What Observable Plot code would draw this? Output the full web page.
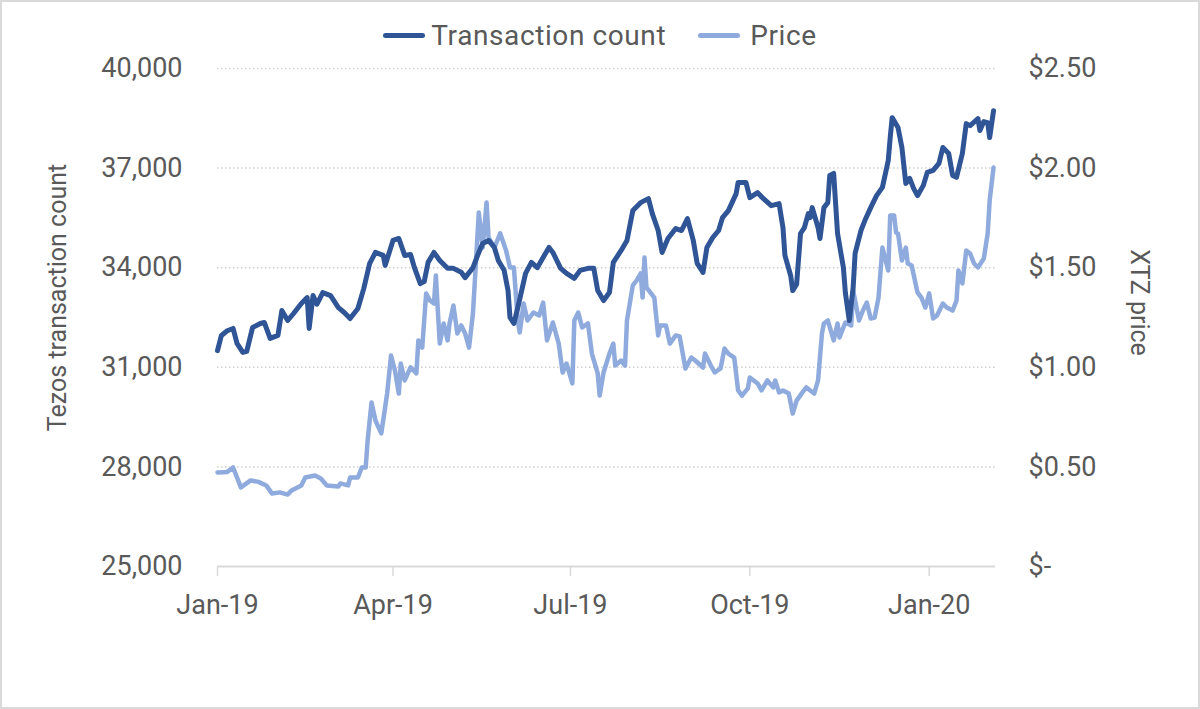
<!DOCTYPE html>
<html><head><meta charset="utf-8">
<script src="https://cdn.jsdelivr.net/npm/d3@7"></script>
<script src="https://cdn.jsdelivr.net/npm/@observablehq/plot@0.6"></script>
<style>
html,body{margin:0;padding:0;background:#fff;}
#wrap{position:relative;width:1200px;height:709px;overflow:hidden;font-family:Roboto,sans-serif;color:#595959;background:#fff;}
#frame{position:absolute;left:0;top:0;width:1200px;height:709px;box-sizing:border-box;border:2px solid #d9d9d9;pointer-events:none;}
#legend{position:absolute;left:0;top:0;width:1200px;height:70px;display:flex;align-items:center;justify-content:center;font-size:28px;letter-spacing:0.6px;padding-left:0;box-sizing:border-box;z-index:2;}
.item{display:flex;align-items:center;}
.sw{width:42px;height:5px;border-radius:3px;margin-right:6px;}
.item + .item{margin-left:32px;}
.item.p .sw{margin-right:10px;}
svg{display:block;}
</style></head>
<body>
<div id="wrap"><div id="chart"></div><div id="legend"></div><div id="frame"></div></div>
<script>
// Days since 2019-01-01 and Tezos transaction count
const countDays = [0,2,5,8,10,13,15,18,22,24,27,31,33,36,39,43,46,47,49,51,54,58,62,65,68,72,75,78,81,85,86,90,93,96,99,101,104,106,108,111,114,118,121,125,127,131,134,136,139,142,144,147,149,150,152,154,158,161,164,167,170,172,176,179,183,186,190,193,195,198,201,203,207,210,213,217,221,223,226,228,231,235,238,241,244,246,249,251,254,257,259,262,266,267,271,273,277,280,284,288,290,291,294,295,297,299,301,303,304,305,308,309,311,313,314,316,318,321,322,324,326,327,330,332,335,338,341,344,345,346,349,351,353,355,357,359,362,364,367,370,372,375,377,379,382,384,386,390,391,393,395,396,398];
const countValues = [31500,31960,32100,32170,31720,31450,31480,32200,32320,32350,31870,31960,32710,32410,32620,32920,33100,32170,33160,32900,33250,33160,32800,32650,32470,32770,33370,34120,34460,34370,34070,34820,34880,34370,34400,34000,33520,33580,34160,34460,34220,33980,33980,33860,33700,34000,34460,34730,34820,34610,34220,33920,33310,32500,32320,32800,33830,34160,34000,34310,34610,34460,33980,33830,33680,33920,33980,33980,33310,33010,33250,34160,34520,34820,35720,35960,36080,35630,35120,34460,34880,35180,35120,35480,34820,34130,33860,34610,34910,35120,35510,35720,36230,36570,36570,36110,36260,36080,35870,35930,35210,34370,33750,33310,33500,35030,35210,35630,35510,35810,35210,34880,35810,35960,36780,36840,35030,34000,33250,32410,33400,34430,35120,35420,35810,36170,36420,37230,37920,38520,38220,37620,36540,36690,36390,36170,36480,36870,36930,37140,37620,37440,36780,36720,37440,38340,38280,38490,38130,38400,38370,37920,38730];

// Days since 2019-01-01 and XTZ price (USD)
const priceDays = [0,5,8,12,17,21,25,28,32,36,38,43,45,50,53,56,62,63,67,68,72,74,76,77,79,81,84,87,89,91,93,94,96,99,102,103,105,107,109,111,112,113,114,116,118,119,121,123,125,127,129,131,132,134,136,138,139,142,145,148,150,152,154,155,157,159,162,165,167,169,172,175,177,179,182,183,185,187,190,192,195,196,198,201,203,204,207,209,210,213,215,217,218,219,220,224,226,227,230,232,235,237,240,243,245,249,250,253,255,258,260,262,265,267,269,272,273,277,279,282,285,286,288,290,293,295,297,300,302,306,308,310,311,313,316,318,319,322,325,326,329,331,333,335,337,339,341,344,345,347,348,349,351,353,354,356,359,361,363,365,367,369,372,374,377,379,380,382,384,386,388,390,393,395,396,398];
const priceValues = [0.472,0.475,0.497,0.397,0.432,0.425,0.407,0.366,0.372,0.361,0.382,0.407,0.447,0.457,0.442,0.407,0.402,0.417,0.407,0.447,0.447,0.497,0.497,0.633,0.823,0.733,0.668,0.868,1.059,0.984,0.868,1.019,0.934,1.0,0.969,1.135,1.099,1.370,1.335,1.320,1.461,1.285,1.119,1.220,1.135,1.220,1.310,1.170,1.210,1.170,1.099,1.270,1.436,1.777,1.601,1.827,1.652,1.601,1.672,1.586,1.501,1.501,1.235,1.175,1.320,1.235,1.275,1.260,1.325,1.135,1.225,1.119,0.974,1.019,0.919,1.235,1.275,1.200,1.220,1.069,0.969,0.858,0.974,1.069,1.119,1.009,1.034,1.009,1.235,1.411,1.436,1.471,1.350,1.551,1.401,1.350,1.160,1.210,1.210,1.119,1.160,1.155,0.994,1.049,1.034,0.999,1.069,1.009,0.974,0.994,1.094,1.069,1.049,0.884,0.858,0.894,0.949,0.919,0.884,0.934,0.899,0.934,0.874,0.884,0.868,0.768,0.833,0.874,0.899,0.868,0.934,1.170,1.220,1.235,1.135,1.220,1.150,1.225,1.210,1.386,1.235,1.285,1.325,1.245,1.250,1.350,1.601,1.486,1.762,1.762,1.677,1.672,1.536,1.601,1.521,1.511,1.376,1.350,1.300,1.371,1.245,1.260,1.320,1.300,1.285,1.335,1.486,1.421,1.586,1.571,1.521,1.501,1.546,1.672,1.837,2.003];

// Axis ticks and labels
const countTicks = [25000,28000,31000,34000,37000,40000];
const priceTicks = [0,0.5,1.0,1.5,2.0,2.5];
const priceLabels = ["$-","$0.50","$1.00","$1.50","$2.00","$2.50"];
const xTickDates = ["2019-01-01","2019-04-01","2019-07-01","2019-10-01","2020-01-01"];
const xTickLabels = ["Jan-19","Apr-19","Jul-19","Oct-19","Jan-20"];
const seriesNames = ["Transaction count","Price"];
const seriesColors = ["#2F5597","#8FAADC"];

const start = new Date(Date.UTC(2019,0,1));
const toDate = d => d3.utcDay.offset(start, d);
const countData = countDays.map((d,i)=>({date:toDate(d), value:countValues[i]}));
const priceData = priceDays.map((d,i)=>({date:toDate(d), value:priceValues[i]}));
// map price domain [0,2.5] onto count domain [25000,40000]
const priceScale = d3.scaleLinear().domain([priceTicks[0], priceTicks[priceTicks.length-1]]).range([countTicks[0], countTicks[countTicks.length-1]]);
const xTicks = xTickDates.map(s=>new Date(s+"T00:00:00Z"));
const xLabel = d => xTickLabels[xTicks.findIndex(t=>+t===+d)];
const rightLabel = d => priceLabels[countTicks.indexOf(d)];

// legend
const legend = d3.select("#legend");
seriesNames.forEach((n,i)=>{
  const it = legend.append("div").attr("class","item"+(i===1?" p":""));
  it.append("div").attr("class","sw").style("background",seriesColors[i]);
  it.append("span").text(n);
});

const chart = Plot.plot({
  width:1200, height:709,
  marginLeft:217, marginRight:205, marginTop:68, marginBottom:143,
  style:{fontFamily:"Roboto, sans-serif", color:"#595959", background:"transparent"},
  x:{type:"utc", domain:[toDate(0), toDate(399)]},
  y:{domain:[countTicks[0], countTicks[countTicks.length-1]]},
  marks:[
    Plot.gridY(countTicks.slice(1), {stroke:"#d0d0d0", strokeOpacity:1, strokeWidth:1.5, strokeDasharray:"1.5,2.5"}),
    Plot.ruleY([countTicks[0]], {stroke:"#d9d9d9", strokeWidth:2}),
    Plot.axisY(countTicks, {anchor:"left", tickSize:0, tickPadding:35, tickFormat:d3.format(","), fontSize:27, fill:"#595959", label:null}),
    Plot.axisY(countTicks, {anchor:"right", tickSize:0, tickPadding:33, tickFormat:rightLabel, fontSize:27, fill:"#595959", label:null}),
    Plot.axisX(xTicks, {tickSize:10, stroke:"#d9d9d9", strokeWidth:1.5, tickFormat:()=>"", label:null}),
    Plot.axisX(xTicks, {tickSize:0, tickPadding:28, tickFormat:xLabel, fontSize:27, fill:"#595959", label:null}),
    Plot.text(["Tezos transaction count"], {frameAnchor:"left", textAnchor:"middle", dx:-160, dy:-20, rotate:-90, fontSize:25, fill:"#595959"}),
    Plot.text(["XTZ price"], {frameAnchor:"right", textAnchor:"middle", dx:143, dy:-15, rotate:90, fontSize:25, fill:"#595959"}),
    Plot.line(priceData, {x:"date", y:d=>priceScale(d.value), stroke:seriesColors[1], strokeWidth:4.5, strokeLinejoin:"round", strokeLinecap:"round"}),
    Plot.line(countData, {x:"date", y:"value", stroke:seriesColors[0], strokeWidth:5, strokeLinejoin:"round", strokeLinecap:"round"})
  ]
});
document.getElementById("chart").appendChild(chart);
</script>
</body></html>
